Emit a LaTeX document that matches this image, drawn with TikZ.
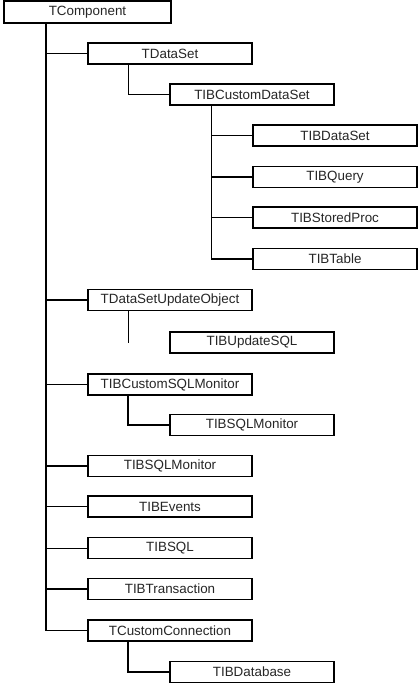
\documentclass[tikz,border=0pt]{standalone}
\usepackage{fontspec}
\setmainfont{Liberation Sans}
\begin{document}
\begin{tikzpicture}[x=1pt,y=-1pt,
  cls/.style={draw=black,line width=1.5pt,fill=white,minimum width=164pt,minimum height=21pt,inner sep=0pt,font=\fontsize{13.4}{15}\selectfont,text=black!85},
  conn/.style={draw=black,line width=1.5pt},
  thinconn/.style={draw=black,line width=0.9pt}]
\useasboundingbox[fill=white] (0,0) rectangle (419,687);
% nodes
\node[cls,minimum width=167pt,minimum height=22pt] (tcomp) at (87.5,12) {TComponent};
\node[cls] (tdataset) at (170,53.5) {TDataSet};
\node[cls] (tibcds) at (252,94.5) {TIBCustomDataSet};
\node[cls] (tibdataset) at (335,135.5) {TIBDataSet};
\node[cls] (tibquery) at (335,177) {TIBQuery};
\node[cls] (tibsp) at (335,217.5) {TIBStoredProc};
\node[cls] (tibtable) at (335,259) {TIBTable};
\node[cls] (tdsuo) at (170,300) {TDataSetUpdateObject};
\node[cls] (tibupdsql) at (252,342.5) {TIBUpdateSQL};
\node[cls] (tibcsqlmon) at (170,384.5) {TIBCustomSQLMonitor};
\node[cls] (tibsqlmonb) at (252,425) {TIBSQLMonitor};
\node[cls] (tibsqlmon) at (170,466) {TIBSQLMonitor};
\node[cls] (tibevents) at (170,506.5) {TIBEvents};
\node[cls] (tibsql) at (170,548) {TIBSQL};
\node[cls] (tibtrans) at (170,589) {TIBTransaction};
\node[cls] (tcc) at (170,630.5) {TCustomConnection};
\node[cls] (tibdb) at (252,672) {TIBDatabase};
% trunk anchors
\coordinate (r0) at ([xshift=-41.5pt]tcomp.south);
\coordinate (r1) at ([xshift=-42pt]tdataset.south);
\coordinate (r2) at ([xshift=-41pt]tibcds.south);
\coordinate (r3) at ([xshift=-42pt]tdsuo.south);
\coordinate (r3e) at (128,343);
\coordinate (r4) at ([xshift=-42pt]tibcsqlmon.south);
\coordinate (r5) at ([xshift=-42pt]tcc.south);
% main trunk
\draw[conn] (r0) |- (tcc.west);
\draw[thinconn] (r0) |- (tdataset.west);
\draw[conn] (r0) |- (tdsuo.west);
\draw[conn] (r0) |- (tibcsqlmon.west);
\draw[conn] (r0) |- (tibsqlmon.west);
\draw[conn] (r0) |- (tibevents.west);
\draw[thinconn] (r0) |- (tibsql.west);
\draw[conn] (r0) |- (tibtrans.west);
% TDataSet subtree
\draw[thinconn] (r1) |- (tibcds.west);
\draw[thinconn] (r2) |- (tibtable.west);
\draw[thinconn] (r2) |- (tibdataset.west);
\draw[conn] (r2 |- tibquery.west) -- (tibquery.west);
\draw[conn] (r2 |- tibsp.west) -- (tibsp.west);
\draw[conn] (r2 |- tibtable.west) -- (tibtable.west);
% TDataSetUpdateObject stub
\draw[thinconn] (r3) -- (r3e);
% TIBCustomSQLMonitor subtree
\draw[conn] (r4) |- (tibsqlmonb.west);
% TCustomConnection subtree
\draw[conn] (r5) |- (tibdb.west);
\end{tikzpicture}
\end{document}
